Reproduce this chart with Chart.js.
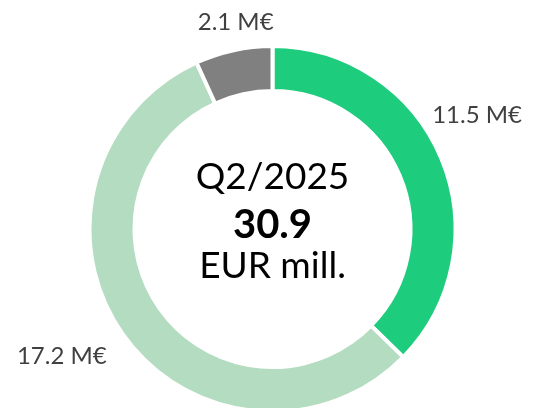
<!DOCTYPE html>
<html lang="en">
<head>
    <meta charset="UTF-8">
    <title>Q2/2025</title>
    <script src="https://cdn.jsdelivr.net/npm/chart.js@4.4.1/dist/chart.umd.min.js"></script>
    <style>
        html, body { margin: 0; padding: 0; background: #fff; overflow: hidden; }
        #wrap { width: 534px; height: 414px; }
    </style>
</head>
<body>
    <div id="wrap">
        <canvas id="myDoughnut"></canvas>
    </div>
    <script>
        var segments = ['A', 'B', 'C'];
        var values = [11.5, 17.2, 2.1];
        var labelTexts = ['11.5 M€', '17.2 M€', '2.1 M€'];
        var colors = ['#1ecc7d', '#b3dcc0', '#808080'];
        var period = 'Q2/2025';
        var total = '30.9';
        var unit = 'EUR mill.';

        var fontName = 'Lato, "Open Sans", sans-serif';

        // value labels outside the ring
        var outsideLabels = {
            id: 'outsideLabels',
            afterDatasetsDraw: function (chart, args, opts) {
                var ctx = chart.ctx;
                var arcs = chart.getDatasetMeta(0).data;
                ctx.save();
                ctx.font = '24px ' + fontName;
                ctx.fillStyle = '#404040';
                ctx.textAlign = 'center';
                ctx.textBaseline = 'middle';
                for (var i = 0; i < arcs.length; i++) {
                    var a = arcs[i];
                    var mid = (a.startAngle + a.endAngle) / 2;
                    var r = a.outerRadius + 28;
                    var nudge = opts.nudge[i] || [0, 0];
                    var x = a.x + Math.cos(mid) * r + nudge[0];
                    var y = a.y + Math.sin(mid) * r + nudge[1];
                    ctx.fillText(labelTexts[i], x, y);
                }
                ctx.restore();
            }
        };

        // text in the hole
        var centerText = {
            id: 'centerText',
            afterDatasetsDraw: function (chart) {
                var ctx = chart.ctx;
                var a = chart.getDatasetMeta(0).data[0];
                ctx.save();
                ctx.fillStyle = '#000';
                ctx.textAlign = 'center';
                ctx.textBaseline = 'alphabetic';
                ctx.font = '37px ' + fontName;
                ctx.fillText(period, a.x, a.y - 40);
                ctx.font = 'bold 40px ' + fontName;
                ctx.fillText(total, a.x, a.y + 9);
                ctx.font = '37px ' + fontName;
                ctx.fillText(unit, a.x, a.y + 49);
                ctx.restore();
            }
        };

        var ctx = document.getElementById('myDoughnut');
        var myChart = new Chart(ctx, {
            type: 'doughnut',
            data: {
                labels: segments,
                datasets: [{
                    data: values,
                    backgroundColor: colors,
                    borderColor: '#fff',
                    borderWidth: 4
                }]
            },
            options: {
                responsive: true,
                maintainAspectRatio: false,
                animation: false,
                cutout: '75.4%',
                layout: {
                    padding: { top: 44, bottom: 0, left: 11, right: 0 }
                },
                plugins: {
                    legend: { display: false },
                    tooltip: { enabled: false },
                    outsideLabels: {
                        nudge: [[10, -32], [-38, 6], [8, -1]]
                    }
                }
            },
            plugins: [outsideLabels, centerText]
        });
    </script>
</body>
</html>
